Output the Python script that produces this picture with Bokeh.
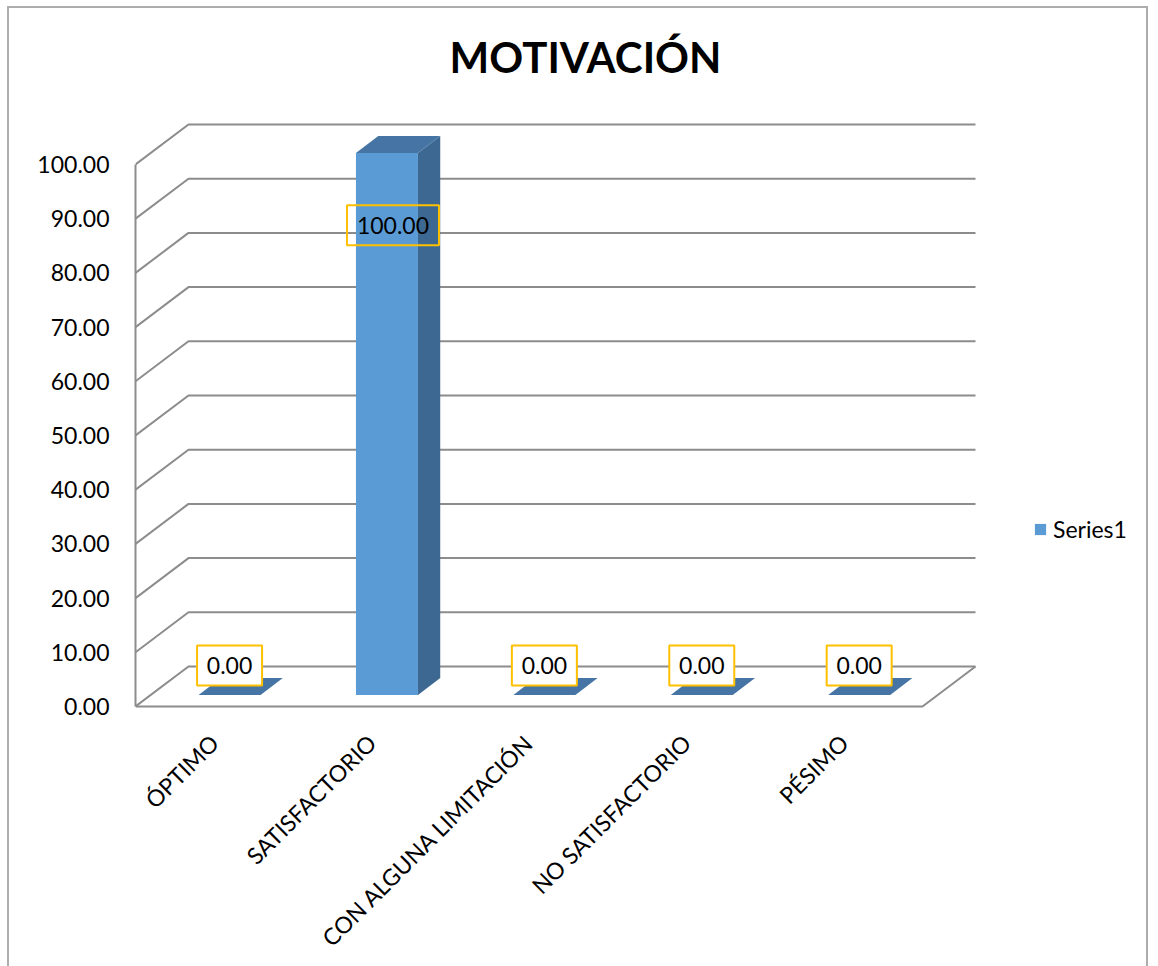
import math
from bokeh.plotting import figure
from bokeh.models import (Range1d, FixedTicker, NumeralTickFormatter, Legend,
                          LegendItem, LinearAxis)
from bokeh.core.properties import value
from bokeh.embed import file_html
from bokeh.resources import INLINE

# ---------------- data ----------------
title_text = "MOTIVACIÓN"
categories = ["ÓPTIMO", "SATISFACTORIO", "CON ALGUNA LIMITACIÓN",
              "NO SATISFACTORIO", "PÉSIMO"]
values = [0.0, 100.0, 0.0, 0.0, 0.0]
y_ticks = [0, 10, 20, 30, 40, 50, 60, 70, 80, 90, 100]
series_name = "Series1"

# ---------------- geometry ----------------
PX_U = 157.4          # px per category slot
PX_V = 5.42           # px per value unit
DXU = 53 / PX_U       # depth offset (x) in category units
DYV = 40 / PX_V       # depth offset (y) in value units
D0, D1 = 0.29, 0.71   # bar depth span
HALF_W = 0.197        # half bar width (category units)

OX, OY = 9, 8                 # canvas origin on page (margin + border)
W, H = 1141, 964
FRAME_LEFT = 135 - OX
frame_w = W - FRAME_LEFT
ZERO_PAGE_Y = 706

x_end = frame_w / PX_U
v_top = (ZERO_PAGE_Y - OY) / PX_V
v_bot = (ZERO_PAGE_Y - (OY + H)) / PX_V

FONT = "Lato"
GRAY = "#8C8C8C"
FRONT = "#5B9BD5"
SIDE = "#3D6891"
TOP = "#4675A5"

p = figure(width=W, height=H, x_range=Range1d(0, x_end),
           y_range=Range1d(v_bot, v_top), output_backend="svg",
           toolbar_location=None, x_axis_location=None, y_axis_location=None,
           min_border_left=FRAME_LEFT, min_border_right=0,
           min_border_top=0, min_border_bottom=0)
p.outline_line_color = None
p.background_fill_color = "white"
p.border_fill_color = "white"
p.xgrid.visible = False
p.ygrid.visible = False
p.grid.visible = False
p.styles = {"margin-left": "7px", "margin-top": "6px",
            "border": "2px solid #ADADAD"}

n = len(categories)

def P(u, v, d):
    return (u + d * DXU, v + d * DYV)

# ---------------- walls / gridlines ----------------
gx, gy = [], []
for t in y_ticks:
    a = P(0, t, 0); b = P(0, t, 1); c = P(n, t, 1)
    gx.append([a[0], b[0], c[0]]); gy.append([a[1], b[1], c[1]])
# floor front and right edges
f0 = P(0, 0, 0); f1 = P(n, 0, 0); f2 = P(n, 0, 1)
gx.append([f0[0], f1[0], f2[0]]); gy.append([f0[1], f1[1], f2[1]])
p.multi_line(gx, gy, line_color=GRAY, line_width=2)

# y axis on the front plane
yaxis = LinearAxis(ticker=FixedTicker(ticks=y_ticks),
                   formatter=NumeralTickFormatter(format="0.00"),
                   bounds=(min(y_ticks), max(y_ticks)))
yaxis.axis_line_color = GRAY
yaxis.axis_line_width = 2
yaxis.major_tick_line_color = None
yaxis.minor_tick_line_color = None
yaxis.major_tick_out = 0
yaxis.major_tick_in = 0
yaxis.major_label_standoff = 26
yaxis.major_label_text_font = FONT
yaxis.major_label_text_font_size = "23px"
yaxis.major_label_text_color = "black"
p.add_layout(yaxis, "left")

# ---------------- bars ----------------
fx, fy, sx, sy, tx, ty = [], [], [], [], [], []
for i, v in enumerate(values):
    u0 = i + 0.5 - HALF_W
    u1 = i + 0.5 + HALF_W
    front = [P(u0, 0, D0), P(u1, 0, D0), P(u1, v, D0), P(u0, v, D0)]
    side = [P(u1, 0, D0), P(u1, 0, D1), P(u1, v, D1), P(u1, v, D0)]
    top = [P(u0, v, D0), P(u1, v, D0), P(u1, v, D1), P(u0, v, D1)]
    fx.append([q[0] for q in front]); fy.append([q[1] for q in front])
    sx.append([q[0] for q in side]); sy.append([q[1] for q in side])
    tx.append([q[0] for q in top]); ty.append([q[1] for q in top])

p.patches(sx, sy, fill_color=SIDE, line_color=None)
front_r = p.patches(fx, fy, fill_color=FRONT, line_color=None)
p.patches(tx, ty, fill_color=TOP, line_color=None)

# ---------------- data labels ----------------
lab_x = [i + 0.5 + D0 * DXU + (6 / PX_U if v > 0 else 0.0)
         for i, v in enumerate(values)]
lab_y = [v - 11.2 if v > 0 else v + 7.56 for v in values]
lab_t = [f"{v:.2f}" for v in values]
lab_w = [13.5 * len(t) + 11 for t in lab_t]
lab_a = [0.0 if v > 0 else 1.0 for v in values]
p.rect(lab_x, lab_y, width=lab_w, height=[40] * n, width_units="screen",
       height_units="screen", fill_color="white", fill_alpha=lab_a,
       line_color="#FFC000", line_width=2)
p.text(lab_x, lab_y, text=lab_t, text_align="center", text_baseline="middle",
       text_font=value(FONT), text_font_size="23px", text_color="black")

# ---------------- category labels ----------------
cat_y = (ZERO_PAGE_Y - 738) / PX_V
p.text([i + 0.5 for i in range(n)], [cat_y] * n, text=categories,
       angle=math.pi / 4, text_align="right", text_baseline="middle",
       text_font=value(FONT), text_font_size="23px", text_color="black")

# ---------------- title ----------------
p.text([(585 - 135) / PX_U], [(ZERO_PAGE_Y - 56) / PX_V], text=[title_text],
       text_align="center", text_baseline="middle",
       text_font=value(FONT), text_font_style="bold",
       text_font_size="42px", text_color="black")

# ---------------- legend ----------------
legend = Legend(items=[LegendItem(label=series_name, renderers=[front_r])],
                location=(1033 - 135, (OY + H) - 543), border_line_color=None,
                background_fill_alpha=0, padding=0, margin=0,
                glyph_width=14, glyph_height=14, label_standoff=6,
                label_text_font=FONT, label_text_font_size="23px",
                label_text_color="black")
p.add_layout(legend)

open("out.html", "w").write(file_html(p, INLINE))
